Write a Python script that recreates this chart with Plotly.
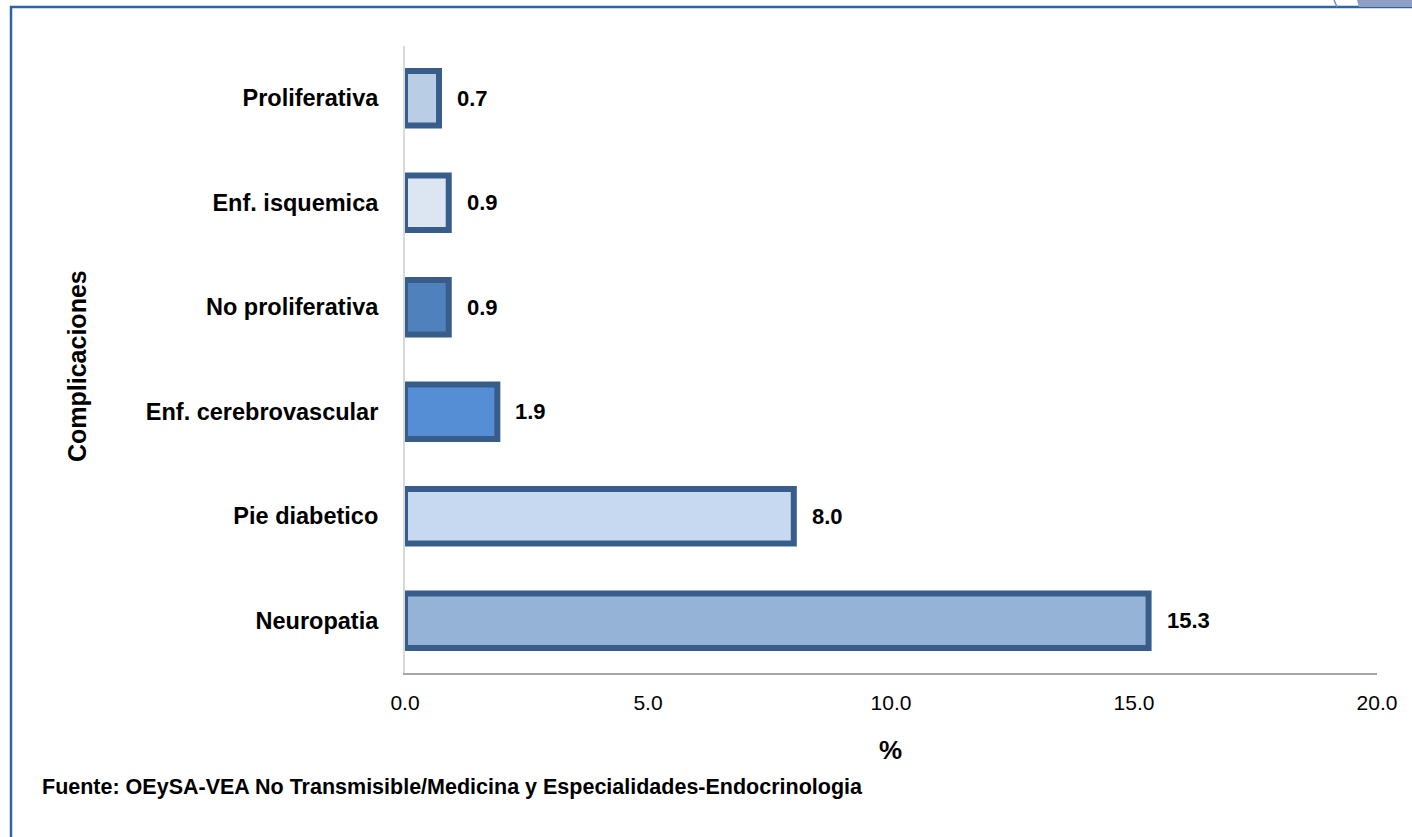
import plotly.graph_objects as go

categories = ["Neuropatia", "Pie diabetico", "Enf. cerebrovascular",
              "No proliferativa", "Enf. isquemica", "Proliferativa"]
values = [15.3, 8.0, 1.9, 0.9, 0.9, 0.7]
fill_colors = ["#95B3D7", "#C6D9F1", "#558ED5", "#4F81BD", "#DCE6F2", "#B9CDE5"]
x_ticks = [0, 5, 10, 15, 20]
x_tick_labels = ["0.0", "5.0", "10.0", "15.0", "20.0"]

FONT = "Liberation Sans, Arial, sans-serif"

W, H = 1412, 837
L, R, T, B = 405, 35, 46, 164
pw, ph = W - L - R, H - T - B


def px(x):
    return (x - L) / pw


def py(y):
    return (H - B - y) / ph


fig = go.Figure()
fig.add_trace(go.Bar(
    x=values, y=categories, orientation="h",
    width=0.52,
    marker=dict(color=fill_colors, line=dict(color="#385D8A", width=6)),
    hoverinfo="x+y",
))

# value labels at bar ends
for c, v in zip(categories, values):
    fig.add_annotation(x=v, y=c, text=f"<b>{v:.1f}</b>", showarrow=False,
                       xanchor="left", yanchor="middle", xshift=16,
                       font=dict(family=FONT, size=22, color="#000000"))

# axis titles
fig.add_annotation(x=px(77), y=py(366), xref="paper", yref="paper",
                   xanchor="center", yanchor="middle",
                   text="<b>Complicaciones</b>", textangle=-90, showarrow=False,
                   font=dict(family=FONT, size=25, color="#000000"))
fig.add_annotation(x=px(890), y=py(750), xref="paper", yref="paper",
                   xanchor="center", yanchor="middle",
                   text="<b>%</b>", showarrow=False,
                   font=dict(family=FONT, size=26, color="#000000"))
# source note
fig.add_annotation(x=px(40), y=py(787), xref="paper", yref="paper",
                   xanchor="left", yanchor="middle",
                   text="<b>Fuente: OEySA-VEA No Transmisible/Medicina y Especialidades-Endocrinologia</b>",
                   showarrow=False, font=dict(family=FONT, size=21.5, color="#000000"))

# outer frame (left and top edges) and corner decoration
fig.add_shape(type="path", xref="paper", yref="paper",
              path=f"M {px(11)},{py(840)} L {px(11)},{py(7)} L {px(1412)},{py(7)}",
              line=dict(color="#2E63A0", width=2.5))
fig.add_shape(type="path", xref="paper", yref="paper",
              path=f"M {px(1357)},{py(0)} L {px(1412)},{py(0)} L {px(1412)},{py(7)} L {px(1359)},{py(7)} Z",
              fillcolor="#8DA0C4", line=dict(width=0))
fig.add_shape(type="line", xref="paper", yref="paper",
              x0=px(1334), y0=py(0), x1=px(1337), y1=py(7),
              line=dict(color="#6D8FC6", width=1.5))

fig.update_layout(
    width=W, height=H,
    margin=dict(l=L, r=R, t=T, b=B),
    paper_bgcolor="#FFFFFF", plot_bgcolor="#FFFFFF",
    showlegend=False,
    xaxis=dict(range=[0, 20], tickvals=x_ticks, ticktext=x_tick_labels,
               showgrid=False, zeroline=False, showline=True,
               linecolor="#A6A6A6", linewidth=2, ticks="",
               tickfont=dict(family=FONT, size=21, color="#000000"),
               ticklabelstandoff=10),
    yaxis=dict(showgrid=False, zeroline=False, showline=True,
               linecolor="#D9D9D9", linewidth=2, ticks="",
               range=[-0.5, 5.5],
               tickfont=dict(family=FONT, size=23.5, color="#000000"),
               ticklabelstandoff=20),
)
fig.update_yaxes(tickprefix="<b>", ticksuffix="</b>")

fig.write_html("out.html")
